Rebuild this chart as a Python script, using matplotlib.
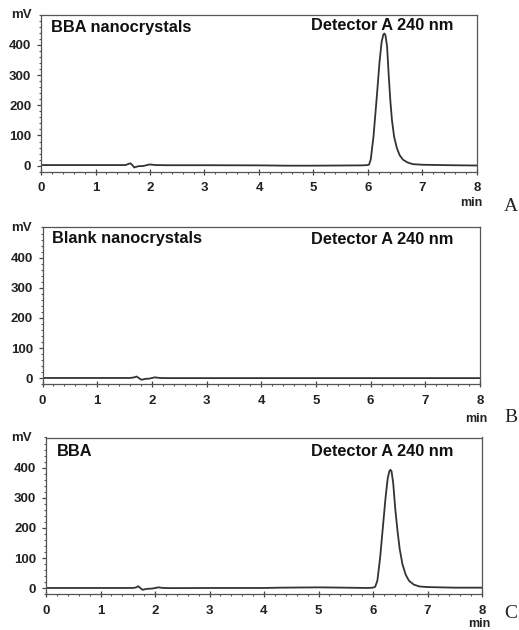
import matplotlib.pyplot as plt
from matplotlib.ticker import MultipleLocator

plt.rcParams['font.family'] = ['Liberation Sans', 'DejaVu Sans']

# chromatogram traces (time in min, signal in mV)
t_a = [0, 1.55, 1.64, 1.68, 1.71, 1.78, 1.88, 1.99, 2.1, 2.3, 3.0, 4.0, 4.5, 5.0, 5.5, 5.9,
       6.0, 6.02, 6.05, 6.10, 6.16, 6.21, 6.25, 6.28, 6.30, 6.32, 6.35, 6.38, 6.41, 6.44,
       6.48, 6.53, 6.58, 6.64, 6.72, 6.82, 7.0, 7.5, 8.0]
mv_a = [2, 2, 8, 1, -6, -2, -1, 4, 2, 1.5, 1.5, 1, 0, 0, 0.5, 1,
        2, 4, 20, 95, 225, 340, 410, 433, 438, 432, 395, 300, 215, 150,
        95, 58, 35, 20, 11, 5, 3, 1.5, 0.5]

t_b = [0, 1.6, 1.68, 1.72, 1.76, 1.81, 1.88, 1.96, 2.05, 2.15, 2.3, 8.0]
mv_b = [1, 1, 3, 6, 1, -5, -2, -1, 3, 1, 0.5, 0.5]

t_c = [0, 1.6, 1.66, 1.69, 1.73, 1.77, 1.85, 1.95, 2.06, 2.15, 2.3, 3.0, 4.0, 4.3, 5.0, 5.5,
       5.9, 6.0, 6.04, 6.08, 6.13, 6.18, 6.23, 6.27, 6.30, 6.32, 6.34, 6.37, 6.41, 6.45,
       6.49, 6.54, 6.60, 6.66, 6.75, 6.85, 7.0, 7.5, 8.0]
mv_c = [1, 1, 3, 7, 1, -5, -2, -1, 3, 1, 0.5, 1, 1, 2, 3, 2,
        1, 2, 5, 25, 100, 200, 300, 365, 388, 393, 388, 350, 260, 190,
        130, 80, 45, 25, 12, 6, 4, 2, 2]

sample_names = ['BBA nanocrystals', 'Blank nanocrystals', 'BBA']
panel_letters = ['A', 'B', 'C']
detector = 'Detector A 240 nm'
x_ticks = [0, 1, 2, 3, 4, 5, 6, 7, 8]
y_ticks = [0, 100, 200, 300, 400]

W, H = 519, 630
fig = plt.figure(figsize=(W / 100, H / 100), dpi=100)

# axes boxes in pixels: left, right, top, bottom
boxes = [(41, 477, 14.7, 171.7), (42.5, 480, 227.5, 384.3), (46, 482, 437.5, 594.3)]
traces = [(t_a, mv_a), (t_b, mv_b), (t_c, mv_c)]
name_pos = [(51, 27.5), (51.7, 239), (56.7, 452)]
det_y = [26, 239, 452]
letter_pos = [(511, 206.7), (511, 418), (511, 614)]
min_pos = [(471.7, 203), (476.7, 419), (479.3, 624)]


def px(x, y):
    return x / W, 1 - y / H


for i, (l, r, top, bot) in enumerate(boxes):
    ax = fig.add_axes([l / W, 1 - bot / H, (r - l) / W, (bot - top) / H])
    t, mv = traces[i]
    ax.plot(t, mv, color='#333333', lw=1.3)
    ax.set_xlim(0, 8)
    ax.set_ylim(-20, 500)
    ax.set_xticks(x_ticks)
    ax.set_yticks(y_ticks)
    ax.xaxis.set_minor_locator(MultipleLocator(0.2))
    ax.yaxis.set_minor_locator(MultipleLocator(20))
    ax.tick_params(which='major', direction='out', length=3, width=0.9, color='#444444',
                   labelsize=9.5, pad=4)
    ax.tick_params(which='minor', direction='out', length=1.5, width=0.8, color='#555555')
    ax.tick_params(axis='x', which='major', direction='inout', length=5, pad=5)
    for lab in ax.get_xticklabels() + ax.get_yticklabels():
        lab.set_fontweight('bold')
        lab.set_color('#222222')
    for sp in ax.spines.values():
        sp.set_color('#555555')
        sp.set_linewidth(0.9)

    x, y = px(*name_pos[i])
    fig.text(x, y, sample_names[i], fontsize=11.8, fontweight='bold', ha='left', va='center',
             color='#111111')
    x, y = px(310.7, det_y[i])
    fig.text(x, y, detector, fontsize=11.8, fontweight='bold', ha='left', va='center',
             color='#111111')
    x, y = px(21.5, top + 0.5)
    fig.text(x, y, 'mV', fontsize=9.5, fontweight='bold', ha='center', va='center',
             color='#222222')
    x, y = px(*min_pos[i])
    fig.text(x, y, 'min', fontsize=9, fontweight='bold', ha='center', va='center',
             color='#222222')
    x, y = px(*letter_pos[i])
    fig.text(x, y, panel_letters[i], fontsize=14, family='Liberation Serif', ha='center',
             va='center', color='#222222')

fig.savefig('out.png', dpi=100)
